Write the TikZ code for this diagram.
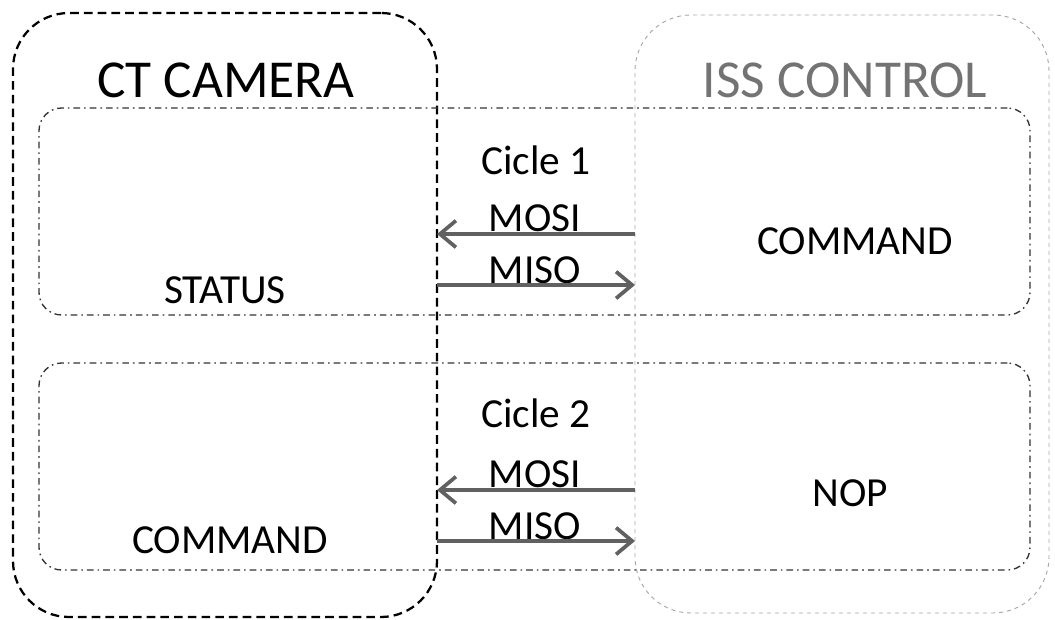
\documentclass[tikz,border=0pt]{standalone}
\usepackage{fontspec}
\setmainfont{Carlito}
\usetikzlibrary{arrows.meta}
\begin{document}
\begin{tikzpicture}[x=0.75pt,y=-0.75pt,
  every node/.style={inner sep=0pt,outer sep=0pt},
  camerabox/.style={draw=black,line width=1.7pt,dash pattern=on 6.5pt off 3.8pt,rounded corners=42pt},
  issbox/.style={draw=black!35,line width=0.7pt,dash pattern=on 3pt off 3pt,rounded corners=42pt},
  ciclebox/.style={draw=black!80,line width=1pt,dash pattern=on 5pt off 3pt on 1.2pt off 3pt,rounded corners=17pt},
  title/.style={font=\fontsize{40}{44}\selectfont},
  label/.style={font=\fontsize{31}{34}\selectfont},
  sig/.style={draw=black!62,line width=3.4pt,-{Straight Barb[length=12pt,width=20pt,line width=2.8pt]}}
]
\useasboundingbox (0,0) rectangle (1055,620);

% the two parties
\node[camerabox,anchor=north west,minimum width=424*0.75pt,minimum height=604*0.75pt] (cam) at (13,13) {};
\node[issbox,anchor=north west,minimum width=414*0.75pt,minimum height=598*0.75pt] (iss) at (635,15) {};

% the two exchange cycles
\node[ciclebox,anchor=north west,minimum width=991*0.75pt,minimum height=207*0.75pt] (c1) at (39,108) {};
\node[ciclebox,anchor=north west,minimum width=991*0.75pt,minimum height=207*0.75pt] (c2) at (39,363) {};

% headings
\node[title] (camT) at (226,80) {CT CAMERA};
\node[title,text=black!55] (issT) at (845,80) {ISS CONTROL};

% cycle 1
\node[label] (cic1) at (536,160) {Cicle 1};
\node[label,anchor=base] (mosi1) at (535,231) {MOSI};
\node[label,anchor=base] (miso1) at (535,283) {MISO};
\node[label] (cmdR) at (855,241) {COMMAND};
\node[label] (stat) at (225,290) {STATUS};
\draw[sig] (iss.west |- 0,234) -- (cam.east |- 0,234);
\draw[sig] (cam.east |- 0,285) -- (iss.west |- 0,285);

% cycle 2
\node[label] (cic2) at (536,413) {Cicle 2};
\node[label,anchor=base] (mosi2) at (535,487) {MOSI};
\node[label,anchor=base] (miso2) at (535,539) {MISO};
\node[label] (nop) at (850,493) {NOP};
\node[label] (cmdL) at (230,540) {COMMAND};
\draw[sig] (iss.west |- 0,490) -- (cam.east |- 0,490);
\draw[sig] (cam.east |- 0,541) -- (iss.west |- 0,541);
\end{tikzpicture}
\end{document}
